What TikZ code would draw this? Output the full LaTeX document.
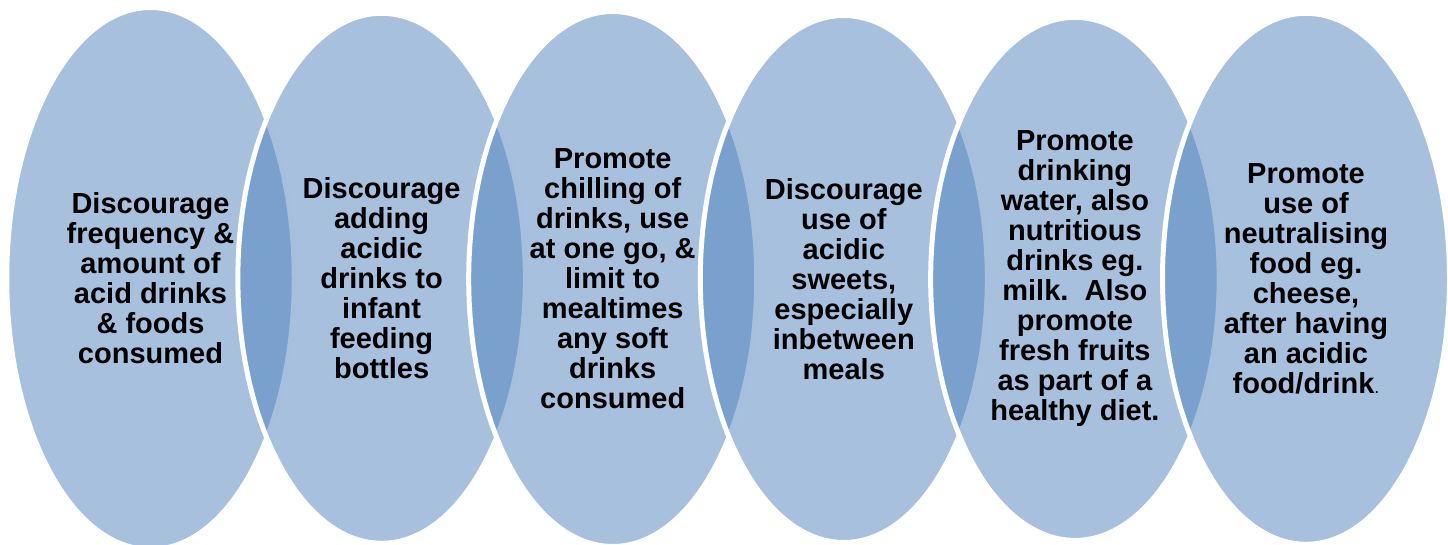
\documentclass[tikz,border=0pt]{standalone}
\usepackage{fontspec}
\setmainfont{Liberation Sans}
\usetikzlibrary{shapes.geometric}
\definecolor{accent}{HTML}{4F81BD}
\tikzset{
  venn/.style={ellipse, inner sep=0pt, outer sep=0pt, fill=accent, fill opacity=0.5,
    draw=white, draw opacity=1, line width=5pt},
  label/.style={align=center, text=black, inner sep=0pt,
    font=\fontsize{29}{30}\selectfont\bfseries}
}
\begin{document}
\begin{tikzpicture}[x=1pt,y=1pt]
\useasboundingbox (0,0) rectangle (1448,545);
\node[venn, minimum width=287.5pt, minimum height=542pt] (e1) at (150.5,266.5) {};
\node[venn, minimum width=287.5pt, minimum height=530pt] (e2) at (381.6,266.7) {};
\node[venn, minimum width=288pt, minimum height=535pt] (e3) at (612.7,266.0) {};
\node[venn, minimum width=287pt, minimum height=527pt] (e4) at (843.8,266.0) {};
\node[venn, minimum width=288.5pt, minimum height=523pt] (e5) at (1074.9,266.1) {};
\node[venn, minimum width=287pt, minimum height=531pt] (e6) at (1306,266.2) {};

\node[label] (t1) at (e1.center) {Discourage\\frequency \&\\amount of\\acid drinks\\\& foods\\consumed};
\node[label] (t2) at (e2.center) {Discourage\\adding\\acidic\\drinks to\\infant\\feeding\\bottles};
\node[label] (t3) at (e3.center) {Promote\\chilling of\\drinks, use\\at one go, \&\\limit to\\mealtimes\\any soft\\drinks\\consumed};
\node[label] (t4) at (e4.center) {Discourage\\use of\\acidic\\sweets,\\especially\\inbetween\\meals};
\node[label] (t5) at (e5.center) {Promote\\drinking\\water, also\\nutritious\\drinks eg.\\milk.\ \ Also\\promote\\fresh fruits\\as part of a\\healthy diet.};
\node[label] (t6) at (e6.center) {Promote\\use of\\neutralising\\food eg.\\cheese,\\after having\\an acidic\\food/drink{\mdseries\fontsize{18}{30}\selectfont .}};
\end{tikzpicture}
\end{document}
